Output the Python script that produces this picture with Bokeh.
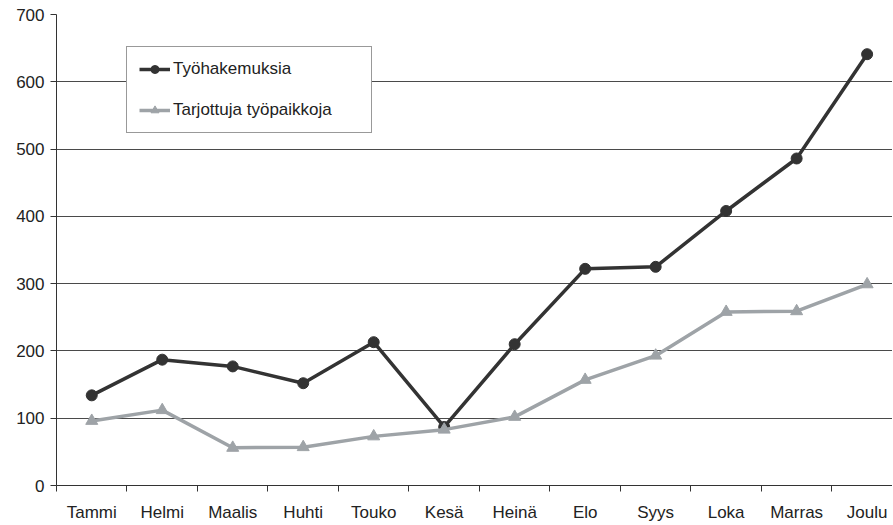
from bokeh.plotting import figure
from bokeh.models import Range1d, FixedTicker, Legend, LegendItem
from bokeh.embed import file_html
from bokeh.resources import INLINE

months = ["Tammi", "Helmi", "Maalis", "Huhti", "Touko", "Kesä",
          "Heinä", "Elo", "Syys", "Loka", "Marras", "Joulu"]
tyohakemuksia = [134, 187, 177, 152, 213, 87, 210, 322, 325, 408, 486, 641]
tarjottuja = [96, 112, 56, 57, 73, 83, 102, 157, 193, 258, 259, 299]
y_ticks = [0, 100, 200, 300, 400, 500, 600, 700]

xs = list(range(len(months)))
FONT = "Liberation Sans"

p = figure(width=892, height=524, output_backend="svg", toolbar_location=None,
           x_range=Range1d(-0.5, 11.36), y_range=Range1d(0, 700),
           min_border_left=56, min_border_top=14, min_border_right=0,
           min_border_bottom=39)
p.outline_line_color = None
p.background_fill_color = "white"
p.border_fill_color = "white"

# grids
p.xgrid.grid_line_color = None
p.ygrid.ticker = FixedTicker(ticks=y_ticks)
p.ygrid.grid_line_color = "#4a4a4a"
p.ygrid.grid_line_width = 1

# y axis
p.yaxis.ticker = FixedTicker(ticks=y_ticks)
p.yaxis.axis_line_color = "#333333"
p.yaxis.major_tick_line_color = "#333333"
p.yaxis.major_tick_out = 6
p.yaxis.major_tick_in = 0
p.yaxis.minor_tick_line_color = None
p.yaxis.major_label_text_font = FONT
p.yaxis.major_label_text_font_size = "17px"
p.yaxis.major_label_text_color = "#222222"
p.yaxis.major_label_standoff = 6

# x axis: labels at category centers, tick marks at boundaries
p.xaxis.ticker = FixedTicker(ticks=xs, minor_ticks=[i - 0.5 for i in range(len(months) + 1)])
p.xaxis.major_label_overrides = {i: m for i, m in enumerate(months)}
p.xaxis.axis_line_color = "#333333"
p.xaxis.major_tick_line_color = None
p.xaxis.major_tick_out = 0
p.xaxis.major_tick_in = 0
p.xaxis.minor_tick_line_color = "#333333"
p.xaxis.minor_tick_out = 6
p.xaxis.minor_tick_in = 0
p.xaxis.major_label_text_font = FONT
p.xaxis.major_label_text_font_size = "17px"
p.xaxis.major_label_text_color = "#222222"
p.xaxis.major_label_standoff = 11

dark = "#333333"
gray = "#9ea3a7"

r1 = p.line(xs, tyohakemuksia, line_color=dark, line_width=3.5)
s1 = p.scatter(xs, tyohakemuksia, marker="circle", size=11,
               fill_color=dark, line_color=dark)
r2 = p.line(xs, tarjottuja, line_color=gray, line_width=3.5)
s2 = p.scatter(xs, tarjottuja, marker="triangle", size=12,
               fill_color=gray, line_color=gray)

legend = Legend(items=[LegendItem(label="Työhakemuksia", renderers=[r1, s1]),
                       LegendItem(label="Tarjottuja työpaikkoja", renderers=[r2, s2])],
                location=(70, 352))
legend.label_text_font = FONT
legend.label_text_font_size = "17px"
legend.label_text_color = "#222222"
legend.label_standoff = 3
legend.label_width = 186
legend.glyph_width = 31
legend.glyph_height = 20
legend.label_height = 20
legend.spacing = 21
legend.padding = 12
legend.margin = 0
legend.border_line_color = "#333333"
legend.border_line_width = 1
legend.background_fill_color = "white"
legend.background_fill_alpha = 1
p.add_layout(legend)

open("out.html", "w").write(file_html(p, INLINE))
